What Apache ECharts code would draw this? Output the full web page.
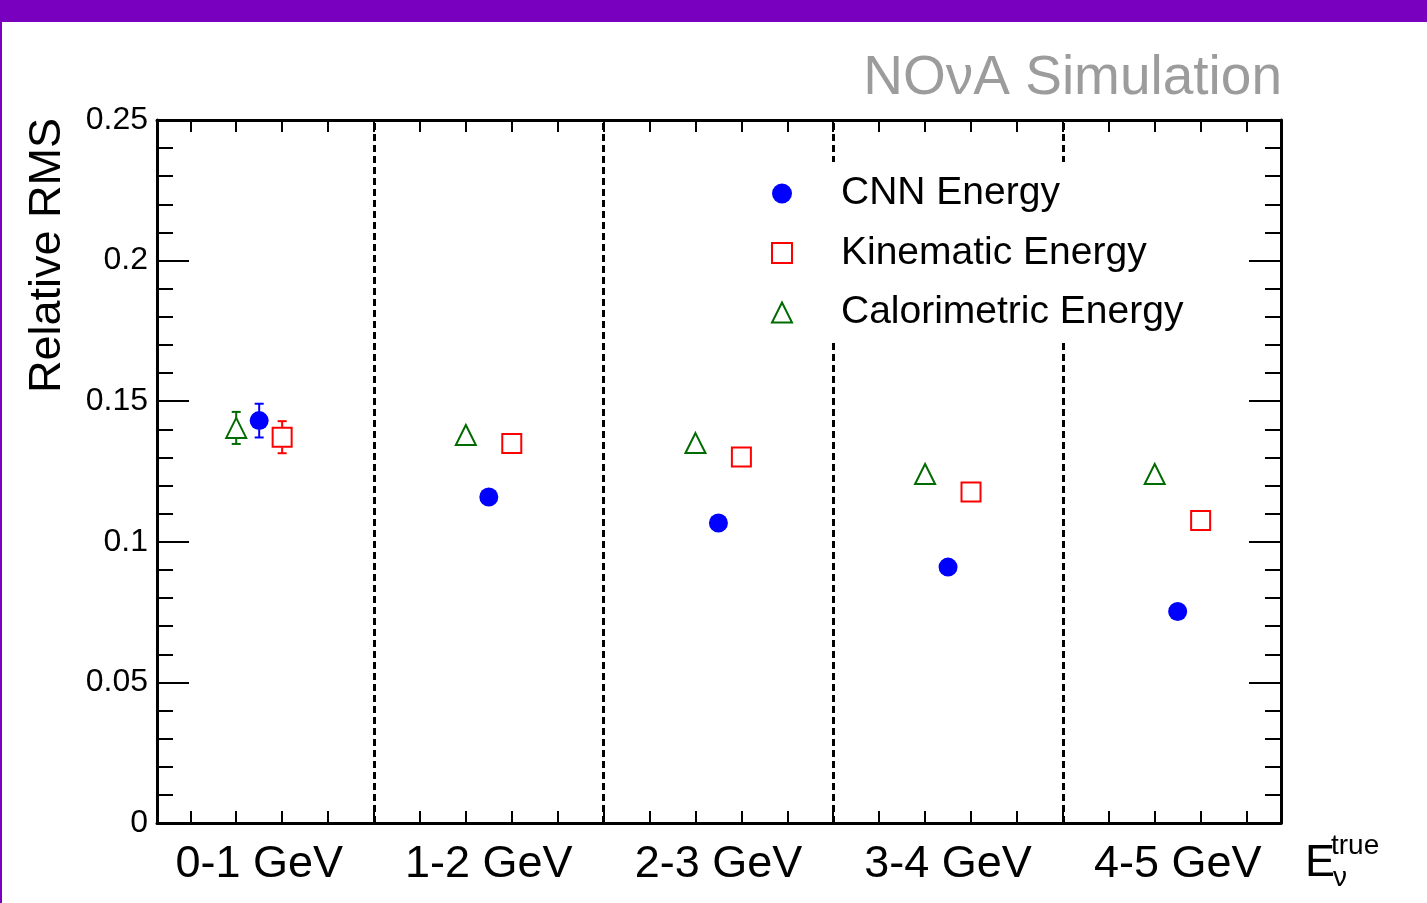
<!DOCTYPE html>
<html>
<head>
<meta charset="utf-8">
<script src="https://cdn.jsdelivr.net/npm/echarts@6/dist/echarts.min.js"></script>
<style>
html,body{margin:0;padding:0;background:#fff;}
#chart{width:1427px;height:903px;}
</style>
</head>
<body>
<div id="chart"></div>
<script>
// ---------------- data ----------------
const binLabels = ['0-1 GeV', '1-2 GeV', '2-3 GeV', '3-4 GeV', '4-5 GeV'];
const binCenters = [0.5, 1.5, 2.5, 3.5, 4.5];
const binEdges = [1, 2, 3, 4];
const seriesNames = ['CNN Energy', 'Kinematic Energy', 'Calorimetric Energy'];
const cnnValues = [0.1431, 0.1159, 0.1067, 0.0910, 0.0752];
const kinValues = [0.1372, 0.1350, 0.1302, 0.1177, 0.1076];
const calValues = [0.1405, 0.1380, 0.1351, 0.1241, 0.1241];
const cnnErrors = [0.0060, 0.0020, 0.0020, 0.0020, 0.0020];
const kinErrors = [0.0057, 0.0020, 0.0020, 0.0020, 0.0020];
const calErrors = [0.0057, 0.0020, 0.0020, 0.0020, 0.0020];
const xTickValues = [0.2, 0.4, 0.6, 0.8, 1.0, 1.2, 1.4, 1.6, 1.8, 2.0, 2.2, 2.4, 2.6, 2.8, 3.0,
                     3.2, 3.4, 3.6, 3.8, 4.0, 4.2, 4.4, 4.6, 4.8];
const yTickLabels = ['0', '0.05', '0.1', '0.15', '0.2', '0.25'];

// ---------------- styling ----------------
const FONT = "'Liberation Sans', Arial, Helvetica, sans-serif";
const COLORS = { cnn: '#0000ff', kin: '#ff0000', cal: '#006b00' };
const OFFSETS = { cnn: 0.0, kin: 0.1, cal: -0.1 };

function points(values, errors, off) {
  return values.map((v, i) => [binCenters[i] + off, v, errors[i]]);
}

function errorBarSeries(name, data, color, halfMarker) {
  return {
    type: 'custom',
    name: name,
    data: data,
    z: 3,
    silent: true,
    renderItem: function (params, api) {
      const x = api.value(0), y = api.value(1), e = api.value(2);
      const c = api.coord([x, y]);
      const t = api.coord([x, y + e]);
      const b = api.coord([x, y - e]);
      const st = { stroke: color, lineWidth: 2 };
      const children = [];
      const cap = 4.5;
      if (t[1] < c[1] - halfMarker) {
        children.push({ type: 'line', shape: { x1: c[0], y1: t[1], x2: c[0], y2: c[1] - halfMarker }, style: st });
        children.push({ type: 'line', shape: { x1: c[0] - cap, y1: t[1], x2: c[0] + cap, y2: t[1] }, style: st });
      }
      if (b[1] > c[1] + halfMarker) {
        children.push({ type: 'line', shape: { x1: c[0], y1: c[1] + halfMarker, x2: c[0], y2: b[1] }, style: st });
        children.push({ type: 'line', shape: { x1: c[0] - cap, y1: b[1], x2: c[0] + cap, y2: b[1] }, style: st });
      }
      return { type: 'group', children: children };
    }
  };
}

const chart = echarts.init(document.getElementById('chart'), null, { renderer: 'canvas' });

const axisLineStyle = { show: true, onZero: false, lineStyle: { color: '#000', width: 3 } };

const option = {
  animation: false,
  backgroundColor: '#fff',
  textStyle: { fontFamily: FONT },
  grid: { left: 157, right: 146, top: 120, bottom: 80, containLabel: false },
  xAxis: [
    {
      type: 'value', position: 'bottom', min: 0.055, max: 4.95,
      axisLine: axisLineStyle,
      axisTick: { show: true, inside: true, length: 12, customValues: xTickValues, lineStyle: { color: '#000', width: 2 } },
      axisLabel: {
        show: true, customValues: binCenters, margin: 19,
        fontFamily: FONT, fontSize: 45, color: '#000',
        formatter: function (v) { return binLabels[Math.floor(v)]; }
      },
      splitLine: { show: false }
    },
    {
      type: 'value', position: 'top', min: 0.055, max: 4.95,
      axisLine: axisLineStyle,
      axisTick: { show: true, inside: true, length: 12, customValues: xTickValues, lineStyle: { color: '#000', width: 2 } },
      axisLabel: { show: false },
      splitLine: { show: false }
    }
  ],
  yAxis: [
    {
      type: 'value', position: 'left', min: 0, max: 0.25, interval: 0.05,
      axisLine: axisLineStyle,
      axisTick: { show: true, inside: true, length: 32, lineStyle: { color: '#000', width: 2 } },
      minorTick: { show: true, splitNumber: 5, length: 16, lineStyle: { color: '#000', width: 2 } },
      axisLabel: {
        show: true, margin: 9, fontFamily: FONT, fontSize: 32, color: '#000',
        formatter: function (v) { return yTickLabels[Math.round(v / 0.05)]; }
      },
      splitLine: { show: false }
    },
    {
      type: 'value', position: 'right', min: 0, max: 0.25, interval: 0.05,
      axisLine: axisLineStyle,
      axisTick: { show: true, inside: true, length: 32, lineStyle: { color: '#000', width: 2 } },
      minorTick: { show: true, splitNumber: 5, length: 16, lineStyle: { color: '#000', width: 2 } },
      axisLabel: { show: false },
      splitLine: { show: false }
    }
  ],
  legend: {
    orient: 'vertical',
    left: 761, top: 162,
    z: 20,
    padding: [9, 16, 8, 10],
    backgroundColor: '#fff',
    itemWidth: 20, itemHeight: 20, itemGap: 14.5,
    selectedMode: false,
    data: seriesNames,
    textStyle: { fontFamily: FONT, fontSize: 39, color: '#000', lineHeight: 45, padding: [0, 0, 0, 44] }
  },
  series: [
    {
      type: 'scatter', name: seriesNames[0],
      data: points(cnnValues, cnnErrors, OFFSETS.cnn),
      symbol: 'circle', symbolSize: 19, z: 5,
      itemStyle: { color: COLORS.cnn, opacity: 1 },
      markLine: {
        silent: true, symbol: ['none', 'none'], label: { show: false },
        z: 1,
        lineStyle: { color: '#000', width: 3, type: [7, 4] },
        emphasis: { disabled: true },
        data: binEdges.map(v => ({ xAxis: v }))
      }
    },
    {
      type: 'scatter', name: seriesNames[1],
      data: points(kinValues, kinErrors, OFFSETS.kin),
      symbol: 'rect', symbolSize: 19, z: 5,
      itemStyle: { color: '#fff', borderColor: COLORS.kin, borderWidth: 2, opacity: 1 }
    },
    {
      type: 'scatter', name: seriesNames[2],
      data: points(calValues, calErrors, OFFSETS.cal),
      symbol: 'triangle', symbolSize: 20, z: 5,
      itemStyle: { color: '#fff', borderColor: COLORS.cal, borderWidth: 2, opacity: 1 }
    },
    errorBarSeries('cnnErr', points(cnnValues, cnnErrors, OFFSETS.cnn), COLORS.cnn, 9),
    errorBarSeries('kinErr', points(kinValues, kinErrors, OFFSETS.kin), COLORS.kin, 10),
    errorBarSeries('calErr', points(calValues, calErrors, OFFSETS.cal), COLORS.cal, 10)
  ],
  graphic: [
    { type: 'rect', shape: { x: 0, y: 0, width: 1427, height: 22 }, style: { fill: '#7800be' }, z: 10 },
    { type: 'rect', shape: { x: 0, y: 0, width: 2, height: 903 }, style: { fill: '#7800be' }, z: 10 },
    {
      type: 'text', x: 1282, y: 79,
      style: { text: 'NOνA Simulation', fill: '#9c9c9c', font: '55px ' + FONT, textAlign: 'right', textVerticalAlign: 'middle' }
    },
    {
      type: 'text', x: 48, y: 118, rotation: Math.PI / 2,
      style: { text: 'Relative RMS', fill: '#000', font: '45px ' + FONT, textAlign: 'right', textVerticalAlign: 'middle' }
    },
    {
      type: 'text', x: 1305, y: 864,
      style: { text: 'E', fill: '#000', font: '45px ' + FONT, textAlign: 'left', textVerticalAlign: 'middle' }
    },
    {
      type: 'text', x: 1331, y: 846,
      style: { text: 'true', fill: '#000', font: '28px ' + FONT, textAlign: 'left', textVerticalAlign: 'middle' }
    },
    {
      type: 'text', x: 1333, y: 878,
      style: { text: 'ν', fill: '#000', font: '28px ' + FONT, textAlign: 'left', textVerticalAlign: 'middle' }
    }
  ]
};

chart.setOption(option);
</script>
</body>
</html>
